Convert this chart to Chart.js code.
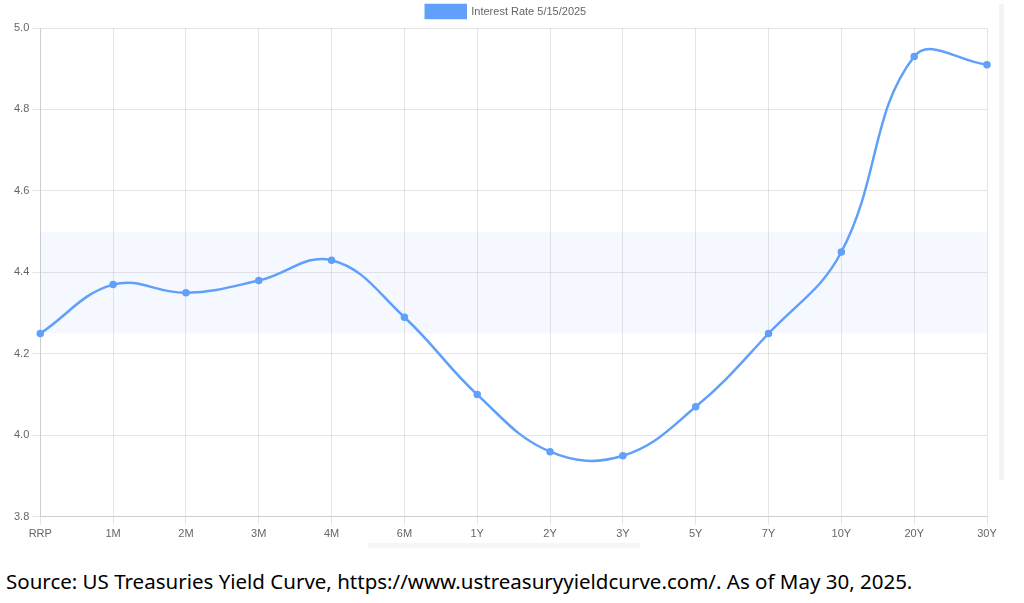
<!DOCTYPE html>
<html>
<head>
<meta charset="utf-8">
<script src="https://cdn.jsdelivr.net/npm/chart.js@4"></script>
<style>
  html, body { margin: 0; padding: 0; background: #fff; }
  body { width: 1024px; height: 603px; position: relative; overflow: hidden; }
  .chart-wrap { position: absolute; left: 0; top: 0; width: 1008px; height: 544px; }
  .scroll-v { position: absolute; left: 999px; top: 4px; width: 5px; height: 476px; background: #f4f4f6; }
  .scroll-h { position: absolute; left: 368px; top: 543px; width: 272px; height: 5px; background: #f6f6f8; }
  .source { position: absolute; left: 6px; top: 567px; font-family: 'Noto Sans', sans-serif; font-size: 20.5px; color: #000; white-space: nowrap; }
</style>
</head>
<body>
<div class="chart-wrap"><canvas id="curveChart"></canvas></div>
<div class="scroll-v"></div>
<div class="scroll-h"></div>
<div class="source">Source: US Treasuries Yield Curve, https://www.ustreasuryyieldcurve.com/. As of May 30, 2025.</div>
<script>
const maturities = ['RRP', '1M', '2M', '3M', '4M', '6M', '1Y', '2Y', '3Y', '5Y', '7Y', '10Y', '20Y', '30Y'];
const rates = [4.25, 4.37, 4.35, 4.38, 4.43, 4.29, 4.10, 3.96, 3.95, 4.07, 4.25, 4.45, 4.93, 4.91];
const seriesLabel = 'Interest Rate 5/15/2025';
// fed funds target range shaded behind the curve
const bandLow = 4.25;
const bandHigh = 4.5;

const lineColor = 'rgb(96, 160, 250)';

const bandPlugin = {
    id: 'band',
    beforeDatasetsDraw(chart) {
        const { ctx, chartArea, scales } = chart;
        const yTop = scales.y.getPixelForValue(bandHigh);
        const yBot = scales.y.getPixelForValue(bandLow);
        ctx.save();
        ctx.fillStyle = 'rgba(59, 130, 246, 0.05)';
        ctx.fillRect(chartArea.left, yTop, chartArea.right - chartArea.left, yBot - yTop);
        ctx.restore();
    }
};

Chart.defaults.font.family = "'Liberation Sans', Arial, sans-serif";
Chart.defaults.font.size = 11;
Chart.defaults.color = '#666';

new Chart(document.getElementById('curveChart'), {
    type: 'line',
    data: {
        labels: maturities,
        datasets: [{
            label: seriesLabel,
            data: rates,
            borderColor: lineColor,
            backgroundColor: lineColor,
            borderWidth: 2.5,
            pointRadius: 2.5,
            pointBackgroundColor: lineColor,
            pointBorderColor: lineColor,
            tension: 0.4,
            fill: false
        }]
    },
    options: {
        responsive: true,
        maintainAspectRatio: false,
        animation: false,
        layout: { padding: { left: 11, right: 7, top: 0, bottom: 0 } },
        plugins: {
            legend: {
                position: 'top',
                labels: { boxWidth: 40, boxHeight: 13, padding: 5, color: '#666' }
            },
            tooltip: { enabled: false }
        },
        scales: {
            x: {
                offset: false,
                grid: { color: 'rgba(0,0,0,0.1)', tickLength: 8 },
                ticks: { maxRotation: 0, autoSkip: false }
            },
            y: {
                min: 3.8,
                max: 5.0,
                ticks: { stepSize: 0.2, callback: v => v.toFixed(1) },
                grid: { color: 'rgba(0,0,0,0.1)', tickLength: 8 }
            },
            // empty spacer on the right
            yRight: {
                position: 'right',
                grid: { display: false },
                border: { display: false },
                ticks: { display: false },
                afterFit(scale) { scale.width = 14; }
            }
        }
    },
    plugins: [bandPlugin]
});
</script>
</body>
</html>
